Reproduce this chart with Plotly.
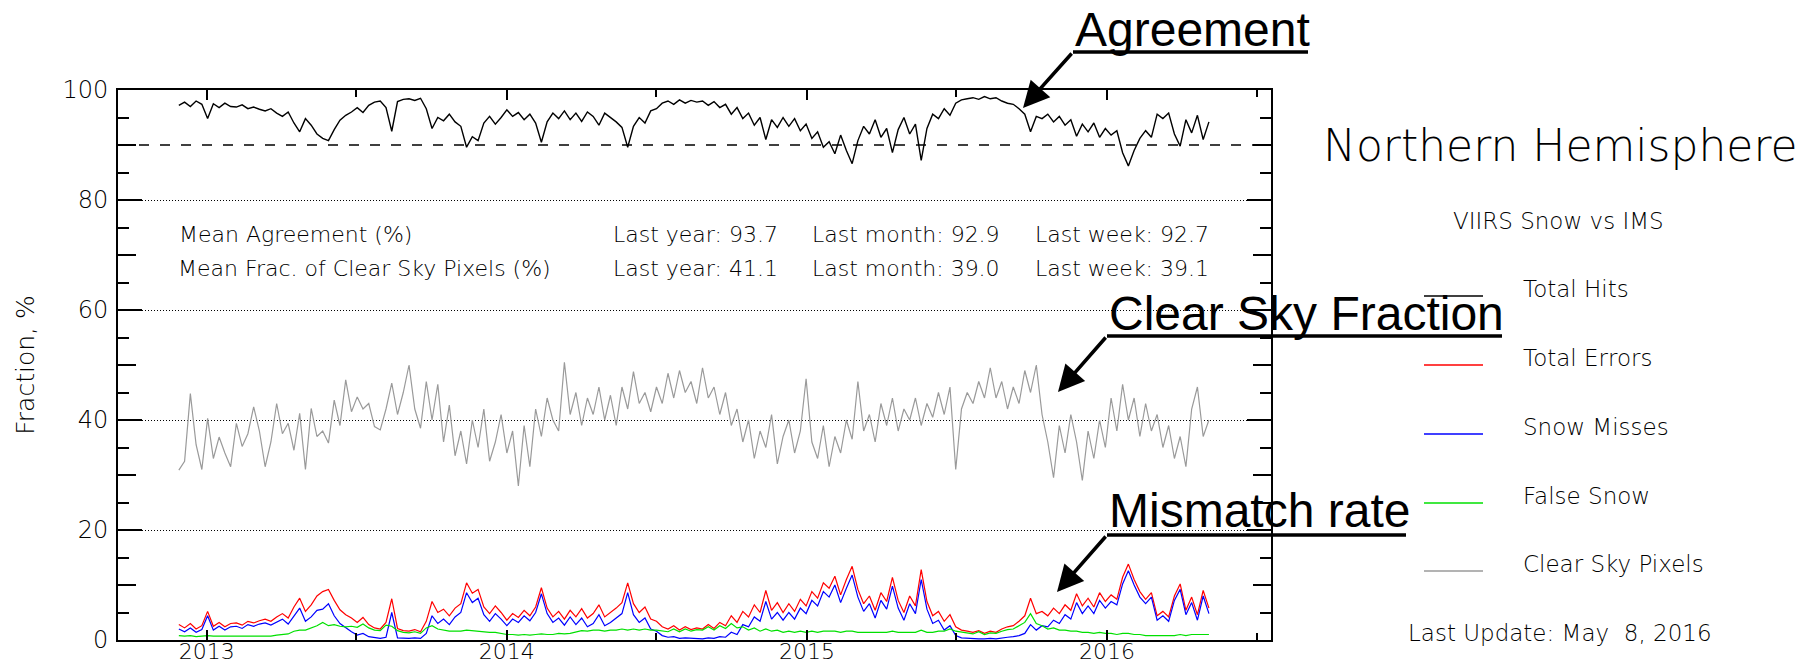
import pandas as pd
import plotly.graph_objects as go

# ---------------------------------------------------------------- canvas
FIG_W, FIG_H = 1812, 669
M_L, M_R, M_T, M_B = 118, 541, 90, 29
PLOT_W = FIG_W - M_L - M_R
PLOT_H = FIG_H - M_T - M_B


def px(x):
    """Canvas pixel column -> paper x."""
    return (x - M_L) / PLOT_W


def py(y):
    """Canvas pixel row -> paper y."""
    return (FIG_H - M_B - y) / PLOT_H


# ---------------------------------------------------------------- data
# weekly samples, 2012-11-28 .. 2016-05-04
dates = pd.date_range("2012-11-28", periods=180, freq="7D")

total_hits = [
    97.2, 97.8, 97.0, 98.0, 97.4, 94.8, 97.5, 96.8, 97.6, 97.0,
    96.9, 97.3, 96.6, 96.9, 96.5, 96.2, 96.6, 95.8, 95.2, 96.0,
    94.0, 92.4, 94.8, 93.6, 92.0, 91.2, 90.8, 92.8, 94.5, 95.4,
    96.0, 96.8, 95.9, 97.2, 97.8, 98.0, 96.8, 92.5, 97.9, 98.3,
    98.4, 98.1, 98.5, 96.6, 93.0, 95.0, 94.4, 95.6, 94.2, 93.4,
    89.6, 91.5, 90.8, 94.0, 95.2, 93.8, 95.0, 96.4, 95.2, 95.9,
    94.6, 95.6, 94.0, 90.5, 94.2, 95.8, 94.8, 96.2, 94.6, 95.8,
    94.3, 96.0, 95.2, 93.6, 95.8, 95.0, 94.2, 93.2, 89.6, 93.4,
    95.0, 94.0, 96.2, 96.6, 97.6, 98.0, 97.4, 98.2, 97.6, 98.1,
    97.8, 98.0, 97.2, 97.9, 96.8, 97.4, 95.6, 96.8, 94.8, 95.8,
    93.6, 95.0, 91.0, 94.6, 93.2, 95.0, 93.4, 94.8, 92.6, 93.8,
    91.2, 92.4, 89.6, 90.6, 88.4, 91.8, 89.0, 86.6, 90.8, 93.4,
    92.0, 94.6, 91.4, 93.0, 88.6, 92.8, 95.0, 92.0, 93.8, 87.2,
    93.0, 95.6, 94.8, 96.6, 95.4, 97.6, 98.2, 98.4, 98.6, 98.3,
    98.8, 98.4, 98.6, 98.0, 97.6, 97.4, 96.6, 95.6, 92.4, 95.2,
    94.8, 95.6, 94.2, 95.2, 93.6, 94.6, 91.6, 93.8, 92.4, 94.0,
    91.4, 93.0, 91.8, 92.6, 88.6, 86.2, 89.0, 91.2, 92.6, 91.4,
    95.6, 94.8, 95.8, 92.0, 89.8, 94.6, 92.2, 95.4, 91.0, 94.2,
]

total_errors = [
    2.8, 2.2, 3.0, 2.0, 2.6, 5.2, 2.5, 3.2, 2.4, 3.0,
    3.1, 2.7, 3.4, 3.1, 3.5, 3.8, 3.4, 4.2, 4.8, 4.0,
    6.0, 7.6, 5.2, 6.4, 8.0, 8.8, 9.2, 7.2, 5.5, 4.6,
    4.0, 3.2, 4.1, 2.8, 2.2, 2.0, 3.2, 7.5, 2.1, 1.7,
    1.6, 1.9, 1.5, 3.4, 7.0, 5.0, 5.6, 4.4, 5.8, 6.6,
    10.4, 8.5, 9.2, 6.0, 4.8, 6.2, 5.0, 3.6, 4.8, 4.1,
    5.4, 4.4, 6.0, 9.5, 5.8, 4.2, 5.2, 3.8, 5.4, 4.2,
    5.7, 4.0, 4.8, 6.4, 4.2, 5.0, 5.8, 6.8, 10.4, 6.6,
    5.0, 6.0, 3.8, 3.4, 2.4, 2.0, 2.6, 1.8, 2.4, 1.9,
    2.2, 2.0, 2.8, 2.1, 3.2, 2.6, 4.4, 3.2, 5.2, 4.2,
    6.4, 5.0, 9.0, 5.4, 6.8, 5.0, 6.6, 5.2, 7.4, 6.2,
    8.8, 7.6, 10.4, 9.4, 11.6, 8.2, 11.0, 13.4, 9.2, 6.6,
    8.0, 5.4, 8.6, 7.0, 11.4, 7.2, 5.0, 8.0, 6.2, 12.8,
    7.0, 4.4, 5.2, 3.4, 4.6, 2.4, 1.8, 1.6, 1.4, 1.7,
    1.2, 1.6, 1.4, 2.0, 2.4, 2.6, 3.4, 4.4, 7.6, 4.8,
    5.2, 4.4, 5.8, 4.8, 6.4, 5.4, 8.4, 6.2, 7.6, 6.0,
    8.6, 7.0, 8.2, 7.4, 11.4, 13.8, 11.0, 8.8, 7.4, 8.6,
    4.4, 5.2, 4.2, 8.0, 10.2, 5.4, 7.8, 4.6, 9.0, 5.8,
]

snow_misses = [
    2.0, 1.5, 2.2, 1.4, 1.9, 4.4, 1.8, 2.5, 1.8, 2.4,
    2.5, 2.1, 2.8, 2.5, 2.9, 3.1, 2.7, 3.3, 3.8, 2.9,
    4.4, 5.8, 3.4, 4.2, 5.4, 5.6, 6.6, 4.4, 3.0, 2.2,
    1.5, 0.9, 1.2, 0.6, 0.4, 0.3, 0.5, 5.0, 0.4, 0.3,
    0.3, 0.4, 0.3, 1.2, 4.4, 3.0, 3.8, 2.8, 4.2, 5.0,
    8.6, 6.8, 7.6, 4.6, 3.4, 4.8, 3.8, 2.6, 3.8, 3.2,
    4.4, 3.5, 5.0, 8.4, 4.8, 3.2, 4.0, 2.7, 4.2, 2.8,
    4.0, 2.4, 3.0, 4.6, 2.6, 3.2, 4.0, 4.8, 8.6, 4.6,
    3.2, 4.0, 2.0, 1.6, 0.8, 0.5, 0.6, 0.3, 0.4, 0.3,
    0.3, 0.2, 0.4, 0.3, 0.6, 0.5, 1.4, 1.0, 2.8, 2.4,
    4.2, 3.4, 7.0, 3.8, 5.0, 3.6, 5.0, 3.8, 5.8, 4.8,
    7.2, 6.2, 8.8, 7.8, 10.0, 6.8, 9.4, 11.8, 7.8, 5.2,
    6.6, 4.0, 7.2, 5.6, 9.8, 5.8, 3.6, 6.6, 4.8, 11.0,
    5.6, 3.0, 3.6, 1.8, 2.6, 0.8, 0.4, 0.3, 0.3, 0.2,
    0.2, 0.3, 0.2, 0.4, 0.5, 0.6, 0.8, 1.2, 2.8, 1.8,
    2.6, 2.4, 3.6, 3.0, 4.6, 3.8, 6.8, 4.8, 6.2, 4.8,
    7.2, 5.8, 7.0, 6.4, 10.2, 12.6, 10.0, 7.8, 6.6, 7.8,
    3.6, 4.4, 3.4, 7.2, 9.2, 4.6, 6.8, 3.6, 8.0, 4.8,
]

false_snow = [
    0.8, 0.7, 0.8, 0.6, 0.7, 0.8, 0.7, 0.7, 0.6, 0.6,
    0.6, 0.6, 0.6, 0.6, 0.6, 0.7, 0.7, 0.9, 1.0, 1.1,
    1.6, 1.8, 1.8, 2.2, 2.6, 3.2, 2.6, 2.8, 2.5, 2.4,
    2.5, 2.3, 2.9, 2.2, 1.8, 1.7, 2.7, 2.5, 1.7, 1.4,
    1.3, 1.5, 1.2, 2.2, 2.6, 2.0, 1.8, 1.6, 1.6, 1.6,
    1.8, 1.7, 1.6, 1.4, 1.4, 1.4, 1.2, 1.0, 1.0, 0.9,
    1.0, 0.9, 1.0, 1.1, 1.0, 1.0, 1.2, 1.1, 1.2, 1.4,
    1.7, 1.6, 1.8, 1.8, 1.6, 1.8, 1.8, 2.0, 1.8, 2.0,
    1.8, 2.0, 1.8, 1.8, 1.6, 1.5, 2.0, 1.5, 2.0, 1.6,
    1.9, 1.8, 2.4, 1.8, 2.6, 2.1, 3.0, 2.2, 2.4, 1.8,
    2.2, 1.6, 2.0, 1.6, 1.8, 1.4, 1.6, 1.4, 1.6, 1.4,
    1.6, 1.4, 1.6, 1.6, 1.6, 1.4, 1.6, 1.6, 1.4, 1.4,
    1.4, 1.4, 1.4, 1.4, 1.6, 1.4, 1.4, 1.4, 1.4, 1.8,
    1.4, 1.4, 1.6, 1.6, 2.0, 1.6, 1.4, 1.3, 1.1, 1.5,
    1.0, 1.3, 1.2, 1.6, 1.9, 2.0, 2.6, 3.2, 4.8, 3.0,
    2.6, 2.0, 2.2, 1.8, 1.8, 1.6, 1.6, 1.4, 1.4, 1.2,
    1.4, 1.2, 1.2, 1.0, 1.2, 1.2, 1.0, 1.0, 0.8, 0.8,
    0.8, 0.8, 0.8, 0.8, 1.0, 0.8, 1.0, 1.0, 1.0, 1.0,
]

clear_sky = [
    30.9, 32.5, 44.8, 35.5, 31.0, 40.3, 33.0, 36.9, 34.0, 31.5,
    39.4, 35.2, 37.5, 42.4, 38.0, 31.5, 36.0, 43.0, 37.5, 39.4,
    34.5, 41.2, 31.0, 42.1, 37.0, 38.0, 35.8, 43.6, 39.0, 47.3,
    41.5, 44.2, 42.0, 43.0, 38.8, 38.2, 42.0, 46.7, 41.0, 45.0,
    50.0, 42.0, 38.5, 47.0, 40.0, 46.5, 36.0, 42.7, 33.5, 38.0,
    32.0, 40.0, 35.0, 42.0, 32.5, 36.0, 41.0, 34.0, 38.0, 28.0,
    39.0, 31.5, 42.0, 37.0, 44.0, 40.0, 38.0, 50.5, 41.0, 45.0,
    39.0, 44.0, 41.0, 46.0, 40.0, 44.5, 39.0, 46.0, 42.0, 48.8,
    43.0, 45.0, 41.5, 46.0, 43.0, 48.5, 44.0, 49.0, 45.0, 47.0,
    43.0, 49.5, 44.0, 46.0, 41.0, 45.0, 39.0, 42.0, 36.0, 40.0,
    33.0, 38.0, 35.0, 41.0, 32.0, 37.0, 40.0, 34.0, 38.0, 47.5,
    36.0, 33.0, 39.0, 31.5, 37.0, 34.0, 40.0, 36.5, 47.0, 38.0,
    41.0, 36.0, 43.0, 39.0, 44.0, 38.0, 42.0, 40.0, 44.0, 39.0,
    43.0, 40.5, 45.0, 41.0, 46.0, 31.0, 42.0, 45.0, 43.0, 47.0,
    44.0, 49.5, 44.0, 47.0, 42.0, 46.0, 43.0, 49.0, 45.0, 50.0,
    41.0, 36.0, 29.5, 39.0, 34.0, 41.0, 36.0, 29.0, 38.0, 33.0,
    40.0, 35.0, 44.0, 38.0, 46.5, 40.0, 44.0, 37.0, 43.0, 38.0,
    41.0, 35.0, 39.0, 33.0, 37.0, 31.5, 42.0, 46.0, 37.0, 40.0,
]

agreement_stats = [93.7, 92.9, 92.7]   # last year, last month, last week
clear_sky_stats = [41.1, 39.0, 39.1]
stat_labels = ["Last year", "Last month", "Last week"]
agreement_threshold = 90
last_update = "May\u00a0 8, 2016"

y_major = [0, 20, 40, 60, 80, 100]
y_mid = [10, 30, 50, 70, 90]
y_minor = [5, 15, 25, 35, 45, 55, 65, 75, 85, 95]

# ---------------------------------------------------------------- styles
IDL_FONT = "DejaVu Sans"
LABEL_FONT = "Liberation Sans, Arial, sans-serif"
THIN = 200

series = [
    ("Total Hits", total_hits, "#000000", 1.4),
    ("Total Errors", total_errors, "#ff0000", 1.2),
    ("Snow Misses", snow_misses, "#0000ff", 1.2),
    ("False Snow", false_snow, "#00e000", 1.2),
    ("Clear Sky Pixels", clear_sky, "#9a9a9a", 1.2),
]

fig = go.Figure()
for name, values, color, width in series:
    fig.add_trace(go.Scatter(
        x=dates, y=values, name=name, mode="lines",
        line=dict(color=color, width=width), showlegend=False,
    ))

# carrier for the intermediate tick level
fig.add_trace(go.Scatter(x=[], y=[], yaxis="y2", showlegend=False, hoverinfo="skip"))

axis_common = dict(showline=True, linecolor="black", linewidth=2, mirror="ticks",
                   ticks="inside", tickcolor="black", zeroline=False, automargin=False)

fig.update_layout(
    width=FIG_W, height=FIG_H,
    margin=dict(l=M_L, r=M_R, t=M_T, b=M_B, autoexpand=False),
    paper_bgcolor="white", plot_bgcolor="white",
    showlegend=False, hovermode=False,
    font=dict(family=IDL_FONT, size=21, color="black", weight=THIN),
    xaxis=dict(
        **axis_common,
        type="date", range=["2012-09-15", "2016-07-18 12:00"],
        dtick="M12", tick0="2013-01-01", tickformat="%Y",
        ticklen=10, tickwidth=2, showgrid=False, ticklabelstandoff=-9,
        tickfont=dict(family=IDL_FONT, size=22, weight=THIN),
        minor=dict(ticks="inside", dtick="M12", tick0="2012-07-01",
                   ticklen=7, tickwidth=1.5, tickcolor="black", showgrid=False),
    ),
    yaxis=dict(
        **axis_common,
        range=[0, 100], tickmode="array", tickvals=y_major,
        ticklen=24, tickwidth=2, ticklabelstandoff=3,
        showgrid=True, gridcolor="black", gridwidth=1, griddash="1px,2px",
        tickfont=dict(family=IDL_FONT, size=24, weight=THIN),
        minor=dict(ticks="inside", tickmode="array", tickvals=y_minor,
                   ticklen=11, tickwidth=1.5, tickcolor="black", showgrid=False),
        title=dict(text="Fraction, %", standoff=21,
                   font=dict(family=IDL_FONT, size=25, weight=THIN)),
    ),
    yaxis2=dict(
        overlaying="y", range=[0, 100], tickmode="array", tickvals=y_mid,
        ticks="inside", ticklen=18, tickwidth=1.5, tickcolor="black",
        showticklabels=False, showgrid=False, showline=False,
        zeroline=False, mirror="ticks", automargin=False,
    ),
)

# agreement threshold
fig.add_shape(type="line", xref="paper", x0=0, x1=1, yref="y",
              y0=agreement_threshold, y1=agreement_threshold,
              line=dict(color="black", width=1.5, dash="10px,11px"))

annotations = []


def text(s, x, y, size=22, anchor="left", family=IDL_FONT, weight=THIN):
    annotations.append(dict(
        text=s, xref="paper", yref="paper", x=px(x), y=py(y),
        xanchor=anchor, yanchor="middle", showarrow=False,
        font=dict(family=family, size=size, color="black", weight=weight),
    ))


# summary statistics inside the plot
stat_x = [611, 810, 1033]
text("Mean Agreement (%)", 177, 234)
text("Mean Frac. of Clear Sky Pixels (%)", 176, 268)
for lab, xv, a, c in zip(stat_labels, stat_x, agreement_stats, clear_sky_stats):
    text(f"{lab}: {a:.1f}", xv, 234)
    text(f"{lab}: {c:.1f}", xv, 268)

# right-hand panel
text("Northern Hemisphere", 1560, 145, size=44, anchor="center")
text("VIIRS Snow vs IMS", 1558, 221, size=23, anchor="center")
key_rows = [289, 358, 427, 496, 564]
for (name, _, color, _w), yrow in zip(series, key_rows):
    text(name, 1521, yrow, size=23)
    fig.add_shape(type="line", xref="paper", yref="paper",
                  x0=px(1424), x1=px(1483), y0=py(yrow + 7), y1=py(yrow + 7),
                  line=dict(color=color, width=1.5))
text(f"Last Update: {last_update}", 1560, 633, size=23, anchor="center")

# call-out labels with arrows
callouts = [
    # label, text left, cap middle, underline end, underline row, arrow head
    ("Agreement", 1073, 29, 1308, 52, (1023, 108)),
    ("Clear Sky Fraction", 1107, 313, 1502, 336, (1058, 392)),
    ("Mismatch rate", 1107, 511, 1406, 535, (1057, 592)),
]
for label, lx, ly, ux, uy, (hx, hy) in callouts:
    text(label, lx, ly, size=48, family=LABEL_FONT, weight="normal")
    fig.add_shape(type="line", xref="paper", yref="paper",
                  x0=px(lx), x1=px(ux), y0=py(uy), y1=py(uy),
                  line=dict(color="black", width=3.5))
    annotations.append(dict(
        text="", xref="paper", yref="paper", x=px(hx), y=py(hy),
        ax=lx - hx, ay=uy - hy, showarrow=True,
        arrowhead=2, arrowsize=1.5, arrowwidth=3.5, arrowcolor="black", standoff=0,
    ))

fig.update_layout(annotations=annotations)
fig.write_html("out.html")
